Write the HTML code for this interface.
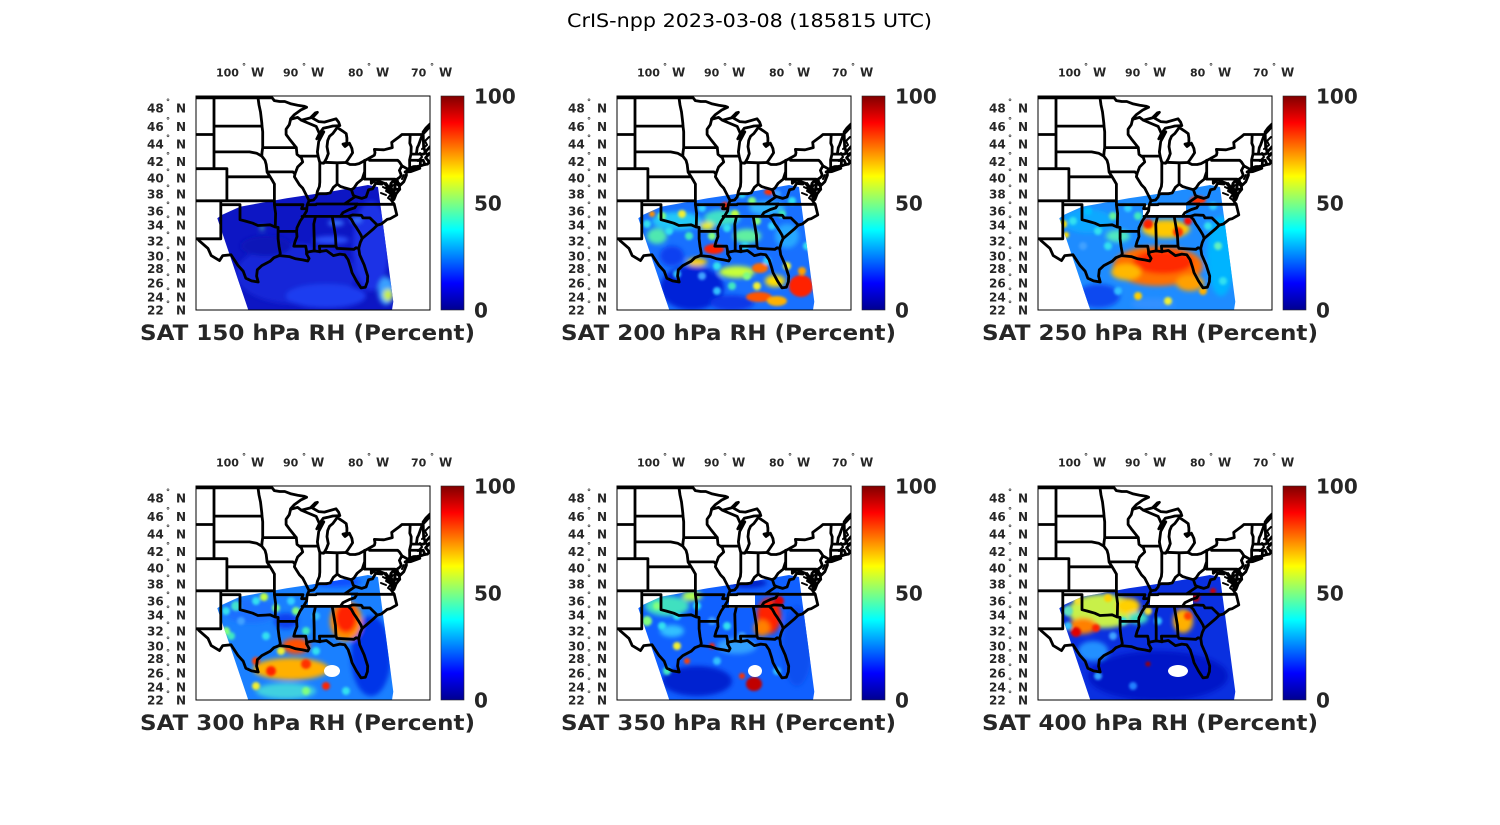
<!DOCTYPE html>
<html><head><meta charset="utf-8"><style>
html,body{margin:0;padding:0;background:#fff;}
svg{display:block;}
text{font-family:"DejaVu Sans","Liberation Sans",sans-serif;}
.l{font-weight:bold;fill:#262626;}
.t{font-weight:bold;fill:#262626;font-size:21px;}
.c{font-weight:bold;fill:#262626;font-size:20px;}
</style></head><body>
<svg xmlns="http://www.w3.org/2000/svg" width="1500" height="825" viewBox="0 0 1500 825">
<defs>
<linearGradient id="jet" x1="0" y1="1" x2="0" y2="0">
<stop offset="0" stop-color="#000090"/><stop offset="0.125" stop-color="#0000ff"/><stop offset="0.375" stop-color="#00ffff"/><stop offset="0.625" stop-color="#ffff00"/><stop offset="0.875" stop-color="#ff0000"/><stop offset="1" stop-color="#800000"/>
</linearGradient>
<clipPath id="sw"><path d="M21.3,122.3 L25.7,119 L44,110.7 L90.7,102.3 L134,95.7 L172,89 L182,91 L197.3,205.7 L196,214 L52.3,214 Z"/></clipPath>
<clipPath id="bx"><rect x="0" y="0" width="234" height="214"/></clipPath>
<filter id="bl" x="-20%" y="-20%" width="140%" height="140%"><feGaussianBlur stdDeviation="2.5"/></filter>
<filter id="bs" x="-20%" y="-20%" width="140%" height="140%"><feGaussianBlur stdDeviation="1.2"/></filter>
<g id="map" fill="none" stroke="#000" stroke-width="2.8" stroke-linejoin="round" stroke-linecap="round">
<path d="M18,0 L18,71.7 M0,37.5 L18,37.5 M0,71.7 L30.9,71.7 L30.9,103.8 M0,103.8 L78.4,103.8 M24.8,103.8 L24.8,141.8 L0,141.8 M24.8,107.7 L44,107.7 L44,122.7 L49.1,124 L56.8,126.2 L61.9,128.5 L69.6,128.1 L74.1,127.8 L79.2,130 L82.1,130.4 M78.4,87.1 L78.4,107.7 L79.6,116.4 L79.3,129.7 M82.1,130.4 L82.1,134.4 L100.6,134.4 M82.1,134.4 L82.1,141.8 L83,149.2 L84.3,156.4 L83.4,158.6 M18,29.1 L66,29.1 M18,54.9 L53.6,54.9 L60.6,56.2 L65.8,59.1 M30.9,79.8 L74.1,79.8 M61.9,0 L63,8 L64.5,14.9 L65.8,25.9 L66,29.1 L66.7,34.8 L66.7,50.6 L100.2,50.6 M66.7,50.6 L66,55.5 L65.8,59.1 L69,63.3 L70.2,67.5 L71.1,75.1 L74.1,79.8 L76.6,83.9 L78.4,87.1 M71.1,74.9 L96.9,74.9 L98.9,76.9 M78.4,107.7 L107,107.7 L105.6,111.7 L109.9,111.7"/>
<path d="M94.6,22.3 L93.3,27.7 L90.1,32.2 L90.1,37.5 L93.3,41.85 L100.3,50.6 L101,57.4 L105.4,60.8 L106.7,65 L101.6,70 L99,76.8 L98.4,79.8 L103.5,87.9 L106.7,91.1 L111.2,99.9 L113.1,103.8 L111.2,107.7 L110.6,114 L107.4,119.4 L104.2,124 L101,130.7 L100.6,134.4 L101,139.6 L99,144.8 L97.8,149.2 L109.7,149.2 L110.4,153 L110.6,156.5 M113.1,103.8 L117.6,103 L120.2,99.9 L120.8,97.5 L123.4,96.7 L130.4,96.7 L134.2,95.9 L137.4,90.3 L141.3,87.1 L144.5,89.5 L148.3,90.7 L155.4,92.7 L157.9,91.1 L161.1,86.3 L166.2,82.2 L168.7,74.6 M123.8,65.3 L123.8,85.1 L123.4,89.5 L121.4,94.3 L120.8,97.5 M141.1,65.8 L141.1,87.1 M128.5,65.3 L141.1,65.8 L149.9,65.5 M104.1,59.1 L122.1,59.1 M168.7,63.3 L168.7,82.1 L199,82.1 L199,92.3 L203.7,92.3 M173.5,61 L173.5,63.3 L201.7,63.3 L203.4,64.9 L205.9,68.8 L211,71.7 M205.9,68.8 L203.4,73.4 L205.3,78.2 L203.4,80.6 L200.8,82.3 L200.8,84.7 M175.3,82.1 L175.3,86.3 L179.7,83 L181.6,83.9 L186.1,85.5 L188.4,86.3 L190.6,88.7 L191.2,91.9 L193.8,94.3 L195.7,95.9 M155.4,92.7 L157.3,98.3 L159.4,99.5 L165.6,101.4 L170.1,99.9 L172.6,92.7 L176.5,91.9 L179.7,86.3 L186.1,87.1 M159.4,99.5 L148.4,107 M111.8,107.7 L120,107.7 L120.5,107 L161.3,107 M161.3,107.3 L198.2,107.3 M161.3,107 L158.6,110.9 L153.4,112.5 L147,115.6 L144.4,119.4 M106.1,119.4 L152.2,119.4 L156.6,117.9 L165.3,118.3 L166.2,119.4 L166.9,120.9 L173.9,120.9 L181.3,128.1 M152.2,119.4 L155.4,122.4 L157.9,127 L160.5,130.7 L162.4,133.7 L165,138.1 L166.2,141.4 M136.2,119.4 L139.4,138.1 L140,149.2 L140.9,151.4 L157.9,152.3 L160,150.8 L162.7,151.4 M123.4,149.2 L140,149.2 M123.4,149.2 L124,154.8 M119.5,119.4 L117.8,127 L118.2,142.5 L118.2,153.9"/>
<path d="M0,0.8 L76.1,0.8 L78.3,3.6 L83.7,4.5 L88.8,4.5 L95.2,6.9 L101.6,8.2 L108,9.2 L110.6,10.2 L104.8,13 L98.4,17.6 L94.6,21.8 L94.6,22.3 L101.6,20.4 L105.4,23.2 L114.4,20.9 L119.5,15.8 L121.4,15.3 L116.2,20.9 L122.6,24.6 L128.4,25.1 L140,21.8 L142.6,25.1 L143.8,28.6 L136.8,29 L131.7,30.3 L127.2,31.3 L123.4,36.6 M105.4,23.2 L112,26 L120.2,29.4 L123.4,36.6 M123.4,36.6 L120.8,41.85 L124,38.4 L127.8,34.8 L122.7,44.5 L121.4,54.9 L122.1,59.1 L123.4,64.1 L124,65.8 L127.8,66.2 L130.4,61.6 L132.3,56.6 L131,49.7 L131.7,43.6 L133.6,39.2 L136.8,36.6 L141.3,30.4 L143.8,32.2 L146.4,33.9 L150.2,36.6 L150.9,41 L150.9,46.2 L147,47.1 L149,49.5 L153.4,46.2 L155.9,51.5 L156.6,55.7 L154.5,59 L152.2,62.4 L149.9,65.5 L154,67.5 L159.2,67.5 L163,66.6 L168.7,63.6 L173.5,61 L178.4,58.2 L179,55.7 L178.4,52.4 L188,52.8 L196.3,50.6 L195.7,45.4 L204,39.2 L205.9,37.5 L226.4,37.5 L229,34.9 L234,29.5 M214.2,37.5 L213.8,46.2 L215.2,49.7 L215,57.1 L227.6,57.1 L228.9,56 M220.3,57.1 L221.3,50.6 L222.6,48 L226.4,37.5 M215,57.1 L213.6,62.9 L213.7,70.9 L212.8,71.7 M213.6,63.1 L224.5,63.3 L227.2,63.3 M224.5,63.3 L224.2,69 M227.2,63.3 L229,67.5 M229.5,56.1 L227.6,49.7 L227.1,34.9 L230,31 L234,27"/>
<path d="M62.2,185 L60.6,179.1 L61.3,172.8 L65.8,168.6 L74.1,164.3 L77.9,160.7 L83.4,158.6 L93.3,159.6 L99.7,161.8 L106.7,162.9 L111.8,164 L113.1,161.5 L110.6,157.1 L111.8,155 L118.2,153.9 L123.4,154.6 L130.4,153.5 L137.4,158.6 L143.8,157.1 L148.8,157.8 L152.2,162.9 L154.7,170.7 L156,175.6 L160.5,184 L165,190.9 L169.4,190.2 L171.4,184.7 L171.7,179.1 L168.2,167.9 L163.7,157.8 L162.7,151.4 L164.3,145.5 L166.2,141.4 L172,136.6 L177.1,132.2 L181.3,128.1 L185.4,127 L191.2,122.4 L194.4,121.6 L200.8,117.9 L198.9,110.1 L198.2,107.3 L195.7,103.8 L195.7,99.1 L196.3,93.5 L194.4,88.7 L195,86.3 L197.6,83.5 L199.5,86.3 L198.2,93.5 L197.9,102.6 L200.2,96.7 L203.7,92.3 L203.4,89.5 L200.8,84.7 L204.6,87.9 L207.8,84.7 L210.4,78.2 L210.4,75.8 L209.1,75 M210.4,75 L214.9,74.6 L223.8,71.3 L219.4,71.7 L212.3,72.6 L210.4,74.2 M212.8,71.7 L217.4,69.7 L221.3,69.4 L224.2,69 L227,68 L229,67.5 L231.5,67.1 L232.8,65.5 L232.2,63.7 L229.6,60.8 L232.2,57.8 L228.9,55.7 L230.2,54 L234,49.7 M1.8,141.8 L3,143.6 L12,151.4 L15.2,158.6 L23.5,163.6 L26.7,158.6 L35,157.8 L42.1,168.6 L47.2,174.2 L49.8,181.2 L55.5,183.9 L62.2,185"/>
<path stroke-width="2" d="M190,86 L193,90 L190,94 L195,97 L192,101 L196,104 M197,88 L194,92 L198,95 L195,99 M202,84 L199,87 L204,89 M187,90 L191,92 M185,96 L190,98 M208,78 L206,82 M226,52 L231,48 L229,44 L233,40 M222,64 L226,60 L224,56 M230,60 L233,56"/>
</g>
</defs>

<rect x="0" y="0" width="1500" height="825" fill="#fff"/>
<text x="567" y="27" font-size="19" fill="#000" textLength="365" lengthAdjust="spacingAndGlyphs">CrIS-npp 2023-03-08 (185815 UTC)</text>

<!-- PANEL 1 -->
<g transform="translate(196,96)">
<g clip-path="url(#sw)">
<rect x="0" y="0" width="234" height="214" fill="#0d16c4"/>
<g filter="url(#bl)">
<ellipse cx="100" cy="178" rx="60" ry="30" fill="#1428d8"/>
<ellipse cx="70" cy="150" rx="25" ry="10" fill="#0a12b8"/>
<ellipse cx="175" cy="150" rx="18" ry="45" fill="#1a32e6"/>
<ellipse cx="140" cy="127" rx="8" ry="3" fill="#3a78ff"/>
<ellipse cx="160" cy="124" rx="6" ry="3" fill="#3a78ff"/>
<ellipse cx="130" cy="200" rx="40" ry="12" fill="#1c3cf0"/>
<ellipse cx="135" cy="144" rx="18" ry="4" fill="#2a50f8"/>
<ellipse cx="190" cy="195" rx="8" ry="14" fill="#3aa0ff"/>
<ellipse cx="192" cy="199" rx="5" ry="6" fill="#c8f040"/>
<circle cx="66" cy="132" r="2" fill="#50e0b0"/>
</g>
</g>
<g clip-path="url(#bx)"><use href="#map" transform="translate(0,1)"/></g>
<rect x="0" y="0" width="234" height="214" fill="none" stroke="#000" stroke-width="1"/>
</g>

<!-- PANEL 2 -->
<g transform="translate(617,96)">
<g clip-path="url(#sw)">
<rect x="0" y="0" width="234" height="214" fill="#1870ff"/>
<g filter="url(#bl)">
<ellipse cx="75" cy="192" rx="32" ry="22" fill="#0024d8"/>
<ellipse cx="115" cy="207" rx="22" ry="8" fill="#0838e8"/>
<ellipse cx="55" cy="160" rx="12" ry="10" fill="#0a40f0"/>
<ellipse cx="60" cy="125" rx="25" ry="9" fill="#20c8f8"/>
<ellipse cx="105" cy="122" rx="18" ry="8" fill="#40e0c8"/>
<ellipse cx="150" cy="112" rx="18" ry="7" fill="#30b8ff"/>
<ellipse cx="130" cy="140" rx="14" ry="7" fill="#60f0a0"/>
<ellipse cx="40" cy="140" rx="10" ry="8" fill="#50e8b0"/>
<ellipse cx="170" cy="140" rx="12" ry="12" fill="#28a8ff"/>
<ellipse cx="90" cy="130" rx="7" ry="4" fill="#f0f020"/>
<ellipse cx="120" cy="176" rx="18" ry="6" fill="#c8ff38"/>
<ellipse cx="158" cy="185" rx="10" ry="6" fill="#ffe000"/>
<ellipse cx="80" cy="166" rx="10" ry="4" fill="#ffd000"/>
</g>
<g filter="url(#bs)">
<circle cx="30" cy="128" r="4" fill="#30e0f0"/><circle cx="45" cy="120" r="4" fill="#80ff80"/><circle cx="52" cy="135" r="4" fill="#30e0f0"/><circle cx="65" cy="118" r="4" fill="#f0f030"/><circle cx="72" cy="140" r="4" fill="#40e8c0"/><circle cx="85" cy="112" r="4" fill="#30d0ff"/><circle cx="95" cy="140" r="4" fill="#80ff80"/><circle cx="110" cy="132" r="4" fill="#30e0f0"/><circle cx="118" cy="118" r="4" fill="#c0ff40"/><circle cx="128" cy="150" r="4" fill="#30e0f0"/><circle cx="140" cy="125" r="4" fill="#80ff80"/><circle cx="155" cy="130" r="4" fill="#30d0ff"/><circle cx="165" cy="118" r="4" fill="#40e8c0"/><circle cx="175" cy="105" r="4" fill="#30e0f0"/><circle cx="135" cy="105" r="4" fill="#80ff80"/><circle cx="100" cy="170" r="4" fill="#30e0f0"/><circle cx="115" cy="190" r="4" fill="#40e8c0"/><circle cx="130" cy="180" r="4" fill="#80ff80"/><circle cx="150" cy="165" r="4" fill="#30d0ff"/><circle cx="170" cy="170" r="4" fill="#f0f030"/><circle cx="165" cy="205" r="4" fill="#30e0f0"/><circle cx="185" cy="175" r="4" fill="#ffa000"/><circle cx="100" cy="195" r="4" fill="#30c0ff"/><circle cx="85" cy="180" r="4" fill="#40a0ff"/><circle cx="60" cy="178" r="4" fill="#30c0ff"/><circle cx="140" cy="190" r="4" fill="#f0f030"/><circle cx="190" cy="150" r="4" fill="#30e0f0"/><circle cx="125" cy="98" r="4" fill="#30e0f0"/><circle cx="160" cy="98" r="4" fill="#40a0ff"/>
<ellipse cx="97" cy="153" rx="10" ry="5" fill="#ff2400"/>
<ellipse cx="184" cy="190" rx="12" ry="11" fill="#ff2400"/>
<ellipse cx="142" cy="201" rx="13" ry="5" fill="#ff5400"/>
<ellipse cx="143" cy="172" rx="8" ry="5" fill="#ff6a00"/>
<circle cx="108" cy="110" r="4" fill="#ff2400"/>
<ellipse cx="152" cy="96" rx="5" ry="3" fill="#ff3000"/>
<circle cx="35" cy="118" r="3" fill="#ff9000"/>
<ellipse cx="160" cy="205" rx="10" ry="5" fill="#ffb000"/>
</g>
</g>
<g clip-path="url(#bx)"><use href="#map" transform="translate(0,1)"/></g>
<rect x="0" y="0" width="234" height="214" fill="none" stroke="#000" stroke-width="1"/>
</g>

<!-- PANEL 3 -->
<g transform="translate(1038,96)">
<g clip-path="url(#sw)">
<rect x="0" y="0" width="234" height="214" fill="#1e8cff"/>
<g filter="url(#bl)">
<ellipse cx="50" cy="125" rx="25" ry="12" fill="#10a8ff"/>
<ellipse cx="60" cy="200" rx="22" ry="12" fill="#0848f0"/>
<ellipse cx="115" cy="208" rx="22" ry="6" fill="#3090ff"/>
<ellipse cx="183" cy="160" rx="14" ry="40" fill="#00b4ff"/>
<ellipse cx="120" cy="170" rx="45" ry="20" fill="#ff7000"/>
<ellipse cx="125" cy="166" rx="30" ry="12" fill="#ff2a00"/>
<ellipse cx="88" cy="176" rx="15" ry="8" fill="#ffb800"/>
<ellipse cx="152" cy="187" rx="14" ry="8" fill="#ffa000"/>
<ellipse cx="128" cy="133" rx="24" ry="9" fill="#ffc800"/>
<ellipse cx="80" cy="140" rx="12" ry="6" fill="#50e8c0"/>
</g>
<g filter="url(#bs)">
<circle cx="35" cy="125" r="4" fill="#30e0f0"/><circle cx="50" cy="115" r="4" fill="#00c0ff"/><circle cx="60" cy="135" r="4" fill="#30e0f0"/><circle cx="75" cy="120" r="4" fill="#60f0a0"/><circle cx="90" cy="112" r="4" fill="#30d0ff"/><circle cx="70" cy="150" r="4" fill="#30e0f0"/><circle cx="45" cy="150" r="4" fill="#40a0ff"/><circle cx="25" cy="128" r="4" fill="#ffe000"/><circle cx="100" cy="120" r="4" fill="#40e8c0"/><circle cx="170" cy="130" r="4" fill="#30e0f0"/><circle cx="180" cy="150" r="4" fill="#60f0c0"/><circle cx="185" cy="185" r="4" fill="#30e0f0"/><circle cx="175" cy="110" r="4" fill="#30d0ff"/><circle cx="80" cy="195" r="4" fill="#30c0ff"/><circle cx="100" cy="200" r="4" fill="#ffd000"/><circle cx="130" cy="205" r="4" fill="#f0f030"/><circle cx="165" cy="195" r="4" fill="#ffb000"/>
<circle cx="110" cy="128" r="5" fill="#ff2000"/>
<circle cx="140" cy="136" r="5" fill="#ff3000"/>
<circle cx="150" cy="125" r="4" fill="#ff1000"/>
<ellipse cx="160" cy="104" rx="8" ry="4" fill="#ff3000"/>
<circle cx="28" cy="139" r="3" fill="#ffe000"/>
</g>
<path d="M105,109 L148,107 L148,119 L105,119 Z" fill="#fff"/>
</g>
<g clip-path="url(#bx)"><use href="#map" transform="translate(0,1)"/></g>
<rect x="0" y="0" width="234" height="214" fill="none" stroke="#000" stroke-width="1"/>
</g>

<!-- PANEL 4 -->
<g transform="translate(196,486)">
<g clip-path="url(#sw)">
<rect x="0" y="0" width="234" height="214" fill="#1a80ff"/>
<g filter="url(#bl)">
<ellipse cx="55" cy="125" rx="28" ry="12" fill="#1c70ff"/>
<ellipse cx="90" cy="135" rx="12" ry="8" fill="#0a40f0"/>
<ellipse cx="175" cy="170" rx="20" ry="40" fill="#0434e8"/>
<ellipse cx="140" cy="96" rx="25" ry="5" fill="#0850ff"/>
<ellipse cx="150" cy="135" rx="16" ry="20" fill="#ff9000"/>
<ellipse cx="150" cy="132" rx="11" ry="15" fill="#ff2000"/>
<ellipse cx="100" cy="160" rx="14" ry="8" fill="#ff5000"/>
<ellipse cx="95" cy="183" rx="38" ry="11" fill="#ffb000"/>
<ellipse cx="90" cy="205" rx="30" ry="8" fill="#40d0e0"/>
</g>
<g filter="url(#bs)">
<circle cx="30" cy="125" r="4" fill="#30e0f0"/><circle cx="45" cy="135" r="4" fill="#40a0ff"/><circle cx="60" cy="115" r="4" fill="#30e0f0"/><circle cx="80" cy="122" r="4" fill="#80ff80"/><circle cx="95" cy="115" r="4" fill="#30d0ff"/><circle cx="35" cy="150" r="4" fill="#40e8c0"/><circle cx="70" cy="150" r="4" fill="#30e0f0"/><circle cx="110" cy="145" r="4" fill="#40e8c0"/><circle cx="120" cy="130" r="4" fill="#30c0ff"/><circle cx="100" cy="125" r="4" fill="#80ff80"/><circle cx="60" cy="200" r="4" fill="#f0f030"/><circle cx="110" cy="205" r="4" fill="#80ff80"/><circle cx="150" cy="205" r="4" fill="#30e0f0"/><circle cx="120" cy="165" r="4" fill="#30e0f0"/><circle cx="85" cy="165" r="4" fill="#f0f030"/>
<circle cx="40" cy="120" r="5" fill="#40e0d0"/>
<circle cx="68" cy="111" r="4" fill="#c0ff40"/>
<circle cx="30" cy="145" r="4" fill="#80ff80"/>
<circle cx="75" cy="185" r="5" fill="#ff2000"/>
<circle cx="110" cy="178" r="5" fill="#ff3000"/>
<circle cx="130" cy="200" r="4" fill="#ff2000"/>
<circle cx="60" cy="175" r="4" fill="#ff4000"/>
</g>
<ellipse cx="136" cy="185" rx="8" ry="6" fill="#fff"/>
<rect x="112" y="107" width="43" height="14" fill="#fff"/>
</g>
<g clip-path="url(#bx)"><use href="#map" transform="translate(0,1)"/></g>
<rect x="0" y="0" width="234" height="214" fill="none" stroke="#000" stroke-width="1"/>
</g>

<!-- PANEL 5 -->
<g transform="translate(617,486)">
<g clip-path="url(#sw)">
<rect x="0" y="0" width="234" height="214" fill="#1060ff"/>
<g filter="url(#bl)">
<ellipse cx="50" cy="120" rx="22" ry="10" fill="#40e0c0"/>
<ellipse cx="75" cy="110" rx="10" ry="5" fill="#b0ff50"/>
<ellipse cx="55" cy="145" rx="12" ry="6" fill="#30c0ff"/>
<ellipse cx="80" cy="195" rx="35" ry="15" fill="#0020d0"/>
<ellipse cx="130" cy="97" rx="20" ry="5" fill="#0020c8"/>
<ellipse cx="180" cy="160" rx="15" ry="40" fill="#0a50f0"/>
<ellipse cx="120" cy="160" rx="20" ry="8" fill="#30a0ff"/>
<ellipse cx="152" cy="130" rx="12" ry="18" fill="#ff2000"/>
<ellipse cx="145" cy="142" rx="8" ry="8" fill="#ff8000"/>
</g>
<g filter="url(#bs)">
<circle cx="40" cy="120" r="4" fill="#80ff80"/><circle cx="60" cy="130" r="4" fill="#30e0f0"/><circle cx="80" cy="120" r="4" fill="#30e0f0"/><circle cx="95" cy="135" r="4" fill="#40a0ff"/><circle cx="45" cy="140" r="4" fill="#30e0f0"/><circle cx="110" cy="140" r="4" fill="#30e0f0"/><circle cx="125" cy="150" r="4" fill="#40a0ff"/><circle cx="100" cy="175" r="4" fill="#30c0ff"/><circle cx="60" cy="160" r="4" fill="#f0f030"/><circle cx="50" cy="185" r="4" fill="#40e8c0"/><circle cx="160" cy="185" r="4" fill="#30c0ff"/>
<circle cx="30" cy="135" r="5" fill="#80ff80"/>
<circle cx="162" cy="115" r="5" fill="#e00000"/>
<ellipse cx="137" cy="198" rx="8" ry="7" fill="#c00000"/>
<circle cx="125" cy="190" r="3" fill="#ff3000"/>
<circle cx="95" cy="160" r="3" fill="#ff2000"/>
<circle cx="70" cy="175" r="3" fill="#ff4000"/>
</g>
<ellipse cx="138" cy="185" rx="7" ry="6" fill="#fff"/>
<rect x="112" y="109" width="26" height="13" fill="#fff"/>
</g>
<g clip-path="url(#bx)"><use href="#map" transform="translate(0,1)"/></g>
<rect x="0" y="0" width="234" height="214" fill="none" stroke="#000" stroke-width="1"/>
</g>

<!-- PANEL 6 -->
<g transform="translate(1038,486)">
<g clip-path="url(#sw)">
<rect x="0" y="0" width="234" height="214" fill="#0a30e0"/>
<g filter="url(#bl)">
<ellipse cx="120" cy="190" rx="70" ry="25" fill="#0418c8"/>
<ellipse cx="65" cy="125" rx="35" ry="17" fill="#c8f048"/>
<ellipse cx="45" cy="140" rx="14" ry="8" fill="#ff8000"/>
<ellipse cx="90" cy="120" rx="12" ry="8" fill="#ffd000"/>
<ellipse cx="55" cy="165" rx="15" ry="10" fill="#2090ff"/>
<ellipse cx="100" cy="132" rx="10" ry="6" fill="#40e0c0"/>
<ellipse cx="145" cy="135" rx="10" ry="12" fill="#ffb000"/>
</g>
<g filter="url(#bs)">
<circle cx="40" cy="115" r="4" fill="#f0e030"/><circle cx="70" cy="112" r="4" fill="#ffd000"/><circle cx="85" cy="135" r="4" fill="#30e0f0"/><circle cx="110" cy="125" r="4" fill="#f0e030"/><circle cx="120" cy="135" r="4" fill="#30c0ff"/><circle cx="30" cy="140" r="4" fill="#30c0ff"/><circle cx="75" cy="150" r="4" fill="#40a0ff"/><circle cx="60" cy="190" r="4" fill="#30a0ff"/><circle cx="95" cy="200" r="4" fill="#2080ff"/>
<circle cx="38" cy="146" r="5" fill="#e00000"/>
<circle cx="58" cy="142" r="4" fill="#ff2000"/>
<circle cx="30" cy="125" r="5" fill="#60e0c0"/>
<circle cx="150" cy="130" r="4" fill="#ff4000"/>
<circle cx="158" cy="112" r="4" fill="#c00000"/>
<circle cx="175" cy="105" r="3" fill="#d00000"/>
<circle cx="110" cy="178" r="2.5" fill="#a00000"/>
</g>
<ellipse cx="140" cy="185" rx="10" ry="6" fill="#fff"/>
<rect x="112" y="109" width="43" height="12" fill="#fff"/>
</g>
<g clip-path="url(#bx)"><use href="#map" transform="translate(0,1)"/></g>
<rect x="0" y="0" width="234" height="214" fill="none" stroke="#000" stroke-width="1"/>
</g>

<!-- colorbars -->
<rect x="441" y="96" width="23" height="214" fill="url(#jet)" stroke="#262626" stroke-width="0.6"/>
<rect x="862" y="96" width="23" height="214" fill="url(#jet)" stroke="#262626" stroke-width="0.6"/>
<rect x="1283" y="96" width="23" height="214" fill="url(#jet)" stroke="#262626" stroke-width="0.6"/>
<rect x="441" y="486" width="23" height="214" fill="url(#jet)" stroke="#262626" stroke-width="0.6"/>
<rect x="862" y="486" width="23" height="214" fill="url(#jet)" stroke="#262626" stroke-width="0.6"/>
<rect x="1283" y="486" width="23" height="214" fill="url(#jet)" stroke="#262626" stroke-width="0.6"/>

<!-- colorbar labels -->
<text class="c" x="474" y="103.5">100</text><text class="c" x="474" y="210.5">50</text><text class="c" x="474" y="317.5">0</text>
<text class="c" x="895" y="103.5">100</text><text class="c" x="895" y="210.5">50</text><text class="c" x="895" y="317.5">0</text>
<text class="c" x="1316" y="103.5">100</text><text class="c" x="1316" y="210.5">50</text><text class="c" x="1316" y="317.5">0</text>
<text class="c" x="474" y="493.5">100</text><text class="c" x="474" y="600.5">50</text><text class="c" x="474" y="707.5">0</text>
<text class="c" x="895" y="493.5">100</text><text class="c" x="895" y="600.5">50</text><text class="c" x="895" y="707.5">0</text>
<text class="c" x="1316" y="493.5">100</text><text class="c" x="1316" y="600.5">50</text><text class="c" x="1316" y="707.5">0</text>

<!-- panel titles -->
<text class="t" x="140" y="340" textLength="335" lengthAdjust="spacingAndGlyphs">SAT 150 hPa RH (Percent)</text>
<text class="t" x="561" y="340" textLength="335" lengthAdjust="spacingAndGlyphs">SAT 200 hPa RH (Percent)</text>
<text class="t" x="982" y="340" textLength="336" lengthAdjust="spacingAndGlyphs">SAT 250 hPa RH (Percent)</text>
<text class="t" x="140" y="730" textLength="335" lengthAdjust="spacingAndGlyphs">SAT 300 hPa RH (Percent)</text>
<text class="t" x="561" y="730" textLength="335" lengthAdjust="spacingAndGlyphs">SAT 350 hPa RH (Percent)</text>
<text class="t" x="982" y="730" textLength="336" lengthAdjust="spacingAndGlyphs">SAT 400 hPa RH (Percent)</text>

<!-- tick labels panel 1 -->
<g class="l" font-size="11">
<text x="216" y="76.5">100<tspan x="242" dy="-7.7" font-size="8">°</tspan><tspan x="251" dy="7.7" font-size="12">W</tspan></text>
<text x="283" y="76.5">90<tspan x="302" dy="-7.7" font-size="8">°</tspan><tspan x="311" dy="7.7" font-size="12">W</tspan></text>
<text x="348" y="76.5">80<tspan x="367" dy="-7.7" font-size="8">°</tspan><tspan x="376" dy="7.7" font-size="12">W</tspan></text>
<text x="411" y="76.5">70<tspan x="430" dy="-7.7" font-size="8">°</tspan><tspan x="439" dy="7.7" font-size="12">W</tspan></text>
</g>
<g class="l" font-size="12">
<text x="147" y="112.7">48<tspan x="166" dy="-8" font-size="8">°</tspan><tspan x="176" dy="8">N</tspan></text>
<text x="147" y="131.1">46<tspan x="166" dy="-8" font-size="8">°</tspan><tspan x="176" dy="8">N</tspan></text>
<text x="147" y="148.7">44<tspan x="166" dy="-8" font-size="8">°</tspan><tspan x="176" dy="8">N</tspan></text>
<text x="147" y="165.8">42<tspan x="166" dy="-8" font-size="8">°</tspan><tspan x="176" dy="8">N</tspan></text>
<text x="147" y="182.3">40<tspan x="166" dy="-8" font-size="8">°</tspan><tspan x="176" dy="8">N</tspan></text>
<text x="147" y="198.4">38<tspan x="166" dy="-8" font-size="8">°</tspan><tspan x="176" dy="8">N</tspan></text>
<text x="147" y="215.5">36<tspan x="166" dy="-8" font-size="8">°</tspan><tspan x="176" dy="8">N</tspan></text>
<text x="147" y="229.3">34<tspan x="166" dy="-8" font-size="8">°</tspan><tspan x="176" dy="8">N</tspan></text>
<text x="147" y="245.5">32<tspan x="166" dy="-8" font-size="8">°</tspan><tspan x="176" dy="8">N</tspan></text>
<text x="147" y="260.5">30<tspan x="166" dy="-8" font-size="8">°</tspan><tspan x="176" dy="8">N</tspan></text>
<text x="147" y="272.8">28<tspan x="166" dy="-8" font-size="8">°</tspan><tspan x="176" dy="8">N</tspan></text>
<text x="147" y="287.6">26<tspan x="166" dy="-8" font-size="8">°</tspan><tspan x="176" dy="8">N</tspan></text>
<text x="147" y="301.3">24<tspan x="166" dy="-8" font-size="8">°</tspan><tspan x="176" dy="8">N</tspan></text>
<text x="147" y="314.3">22<tspan x="166" dy="-8" font-size="8">°</tspan><tspan x="176" dy="8">N</tspan></text>
</g>

<!-- tick labels panel 2 -->
<g transform="translate(421,0)">
<g class="l" font-size="11">
<text x="216" y="76.5">100<tspan x="242" dy="-7.7" font-size="8">°</tspan><tspan x="251" dy="7.7" font-size="12">W</tspan></text>
<text x="283" y="76.5">90<tspan x="302" dy="-7.7" font-size="8">°</tspan><tspan x="311" dy="7.7" font-size="12">W</tspan></text>
<text x="348" y="76.5">80<tspan x="367" dy="-7.7" font-size="8">°</tspan><tspan x="376" dy="7.7" font-size="12">W</tspan></text>
<text x="411" y="76.5">70<tspan x="430" dy="-7.7" font-size="8">°</tspan><tspan x="439" dy="7.7" font-size="12">W</tspan></text>
</g>
<g class="l" font-size="12">
<text x="147" y="112.7">48<tspan x="166" dy="-8" font-size="8">°</tspan><tspan x="176" dy="8">N</tspan></text>
<text x="147" y="131.1">46<tspan x="166" dy="-8" font-size="8">°</tspan><tspan x="176" dy="8">N</tspan></text>
<text x="147" y="148.7">44<tspan x="166" dy="-8" font-size="8">°</tspan><tspan x="176" dy="8">N</tspan></text>
<text x="147" y="165.8">42<tspan x="166" dy="-8" font-size="8">°</tspan><tspan x="176" dy="8">N</tspan></text>
<text x="147" y="182.3">40<tspan x="166" dy="-8" font-size="8">°</tspan><tspan x="176" dy="8">N</tspan></text>
<text x="147" y="198.4">38<tspan x="166" dy="-8" font-size="8">°</tspan><tspan x="176" dy="8">N</tspan></text>
<text x="147" y="215.5">36<tspan x="166" dy="-8" font-size="8">°</tspan><tspan x="176" dy="8">N</tspan></text>
<text x="147" y="229.3">34<tspan x="166" dy="-8" font-size="8">°</tspan><tspan x="176" dy="8">N</tspan></text>
<text x="147" y="245.5">32<tspan x="166" dy="-8" font-size="8">°</tspan><tspan x="176" dy="8">N</tspan></text>
<text x="147" y="260.5">30<tspan x="166" dy="-8" font-size="8">°</tspan><tspan x="176" dy="8">N</tspan></text>
<text x="147" y="272.8">28<tspan x="166" dy="-8" font-size="8">°</tspan><tspan x="176" dy="8">N</tspan></text>
<text x="147" y="287.6">26<tspan x="166" dy="-8" font-size="8">°</tspan><tspan x="176" dy="8">N</tspan></text>
<text x="147" y="301.3">24<tspan x="166" dy="-8" font-size="8">°</tspan><tspan x="176" dy="8">N</tspan></text>
<text x="147" y="314.3">22<tspan x="166" dy="-8" font-size="8">°</tspan><tspan x="176" dy="8">N</tspan></text>
</g>
</g>

<!-- tick labels panel 3 -->
<g transform="translate(842,0)">
<g class="l" font-size="11">
<text x="216" y="76.5">100<tspan x="242" dy="-7.7" font-size="8">°</tspan><tspan x="251" dy="7.7" font-size="12">W</tspan></text>
<text x="283" y="76.5">90<tspan x="302" dy="-7.7" font-size="8">°</tspan><tspan x="311" dy="7.7" font-size="12">W</tspan></text>
<text x="348" y="76.5">80<tspan x="367" dy="-7.7" font-size="8">°</tspan><tspan x="376" dy="7.7" font-size="12">W</tspan></text>
<text x="411" y="76.5">70<tspan x="430" dy="-7.7" font-size="8">°</tspan><tspan x="439" dy="7.7" font-size="12">W</tspan></text>
</g>
<g class="l" font-size="12">
<text x="147" y="112.7">48<tspan x="166" dy="-8" font-size="8">°</tspan><tspan x="176" dy="8">N</tspan></text>
<text x="147" y="131.1">46<tspan x="166" dy="-8" font-size="8">°</tspan><tspan x="176" dy="8">N</tspan></text>
<text x="147" y="148.7">44<tspan x="166" dy="-8" font-size="8">°</tspan><tspan x="176" dy="8">N</tspan></text>
<text x="147" y="165.8">42<tspan x="166" dy="-8" font-size="8">°</tspan><tspan x="176" dy="8">N</tspan></text>
<text x="147" y="182.3">40<tspan x="166" dy="-8" font-size="8">°</tspan><tspan x="176" dy="8">N</tspan></text>
<text x="147" y="198.4">38<tspan x="166" dy="-8" font-size="8">°</tspan><tspan x="176" dy="8">N</tspan></text>
<text x="147" y="215.5">36<tspan x="166" dy="-8" font-size="8">°</tspan><tspan x="176" dy="8">N</tspan></text>
<text x="147" y="229.3">34<tspan x="166" dy="-8" font-size="8">°</tspan><tspan x="176" dy="8">N</tspan></text>
<text x="147" y="245.5">32<tspan x="166" dy="-8" font-size="8">°</tspan><tspan x="176" dy="8">N</tspan></text>
<text x="147" y="260.5">30<tspan x="166" dy="-8" font-size="8">°</tspan><tspan x="176" dy="8">N</tspan></text>
<text x="147" y="272.8">28<tspan x="166" dy="-8" font-size="8">°</tspan><tspan x="176" dy="8">N</tspan></text>
<text x="147" y="287.6">26<tspan x="166" dy="-8" font-size="8">°</tspan><tspan x="176" dy="8">N</tspan></text>
<text x="147" y="301.3">24<tspan x="166" dy="-8" font-size="8">°</tspan><tspan x="176" dy="8">N</tspan></text>
<text x="147" y="314.3">22<tspan x="166" dy="-8" font-size="8">°</tspan><tspan x="176" dy="8">N</tspan></text>
</g>
</g>

<!-- tick labels panel 4 -->
<g transform="translate(0,390)">
<g class="l" font-size="11">
<text x="216" y="76.5">100<tspan x="242" dy="-7.7" font-size="8">°</tspan><tspan x="251" dy="7.7" font-size="12">W</tspan></text>
<text x="283" y="76.5">90<tspan x="302" dy="-7.7" font-size="8">°</tspan><tspan x="311" dy="7.7" font-size="12">W</tspan></text>
<text x="348" y="76.5">80<tspan x="367" dy="-7.7" font-size="8">°</tspan><tspan x="376" dy="7.7" font-size="12">W</tspan></text>
<text x="411" y="76.5">70<tspan x="430" dy="-7.7" font-size="8">°</tspan><tspan x="439" dy="7.7" font-size="12">W</tspan></text>
</g>
<g class="l" font-size="12">
<text x="147" y="112.7">48<tspan x="166" dy="-8" font-size="8">°</tspan><tspan x="176" dy="8">N</tspan></text>
<text x="147" y="131.1">46<tspan x="166" dy="-8" font-size="8">°</tspan><tspan x="176" dy="8">N</tspan></text>
<text x="147" y="148.7">44<tspan x="166" dy="-8" font-size="8">°</tspan><tspan x="176" dy="8">N</tspan></text>
<text x="147" y="165.8">42<tspan x="166" dy="-8" font-size="8">°</tspan><tspan x="176" dy="8">N</tspan></text>
<text x="147" y="182.3">40<tspan x="166" dy="-8" font-size="8">°</tspan><tspan x="176" dy="8">N</tspan></text>
<text x="147" y="198.4">38<tspan x="166" dy="-8" font-size="8">°</tspan><tspan x="176" dy="8">N</tspan></text>
<text x="147" y="215.5">36<tspan x="166" dy="-8" font-size="8">°</tspan><tspan x="176" dy="8">N</tspan></text>
<text x="147" y="229.3">34<tspan x="166" dy="-8" font-size="8">°</tspan><tspan x="176" dy="8">N</tspan></text>
<text x="147" y="245.5">32<tspan x="166" dy="-8" font-size="8">°</tspan><tspan x="176" dy="8">N</tspan></text>
<text x="147" y="260.5">30<tspan x="166" dy="-8" font-size="8">°</tspan><tspan x="176" dy="8">N</tspan></text>
<text x="147" y="272.8">28<tspan x="166" dy="-8" font-size="8">°</tspan><tspan x="176" dy="8">N</tspan></text>
<text x="147" y="287.6">26<tspan x="166" dy="-8" font-size="8">°</tspan><tspan x="176" dy="8">N</tspan></text>
<text x="147" y="301.3">24<tspan x="166" dy="-8" font-size="8">°</tspan><tspan x="176" dy="8">N</tspan></text>
<text x="147" y="314.3">22<tspan x="166" dy="-8" font-size="8">°</tspan><tspan x="176" dy="8">N</tspan></text>
</g>
</g>

<!-- tick labels panel 5 -->
<g transform="translate(421,390)">
<g class="l" font-size="11">
<text x="216" y="76.5">100<tspan x="242" dy="-7.7" font-size="8">°</tspan><tspan x="251" dy="7.7" font-size="12">W</tspan></text>
<text x="283" y="76.5">90<tspan x="302" dy="-7.7" font-size="8">°</tspan><tspan x="311" dy="7.7" font-size="12">W</tspan></text>
<text x="348" y="76.5">80<tspan x="367" dy="-7.7" font-size="8">°</tspan><tspan x="376" dy="7.7" font-size="12">W</tspan></text>
<text x="411" y="76.5">70<tspan x="430" dy="-7.7" font-size="8">°</tspan><tspan x="439" dy="7.7" font-size="12">W</tspan></text>
</g>
<g class="l" font-size="12">
<text x="147" y="112.7">48<tspan x="166" dy="-8" font-size="8">°</tspan><tspan x="176" dy="8">N</tspan></text>
<text x="147" y="131.1">46<tspan x="166" dy="-8" font-size="8">°</tspan><tspan x="176" dy="8">N</tspan></text>
<text x="147" y="148.7">44<tspan x="166" dy="-8" font-size="8">°</tspan><tspan x="176" dy="8">N</tspan></text>
<text x="147" y="165.8">42<tspan x="166" dy="-8" font-size="8">°</tspan><tspan x="176" dy="8">N</tspan></text>
<text x="147" y="182.3">40<tspan x="166" dy="-8" font-size="8">°</tspan><tspan x="176" dy="8">N</tspan></text>
<text x="147" y="198.4">38<tspan x="166" dy="-8" font-size="8">°</tspan><tspan x="176" dy="8">N</tspan></text>
<text x="147" y="215.5">36<tspan x="166" dy="-8" font-size="8">°</tspan><tspan x="176" dy="8">N</tspan></text>
<text x="147" y="229.3">34<tspan x="166" dy="-8" font-size="8">°</tspan><tspan x="176" dy="8">N</tspan></text>
<text x="147" y="245.5">32<tspan x="166" dy="-8" font-size="8">°</tspan><tspan x="176" dy="8">N</tspan></text>
<text x="147" y="260.5">30<tspan x="166" dy="-8" font-size="8">°</tspan><tspan x="176" dy="8">N</tspan></text>
<text x="147" y="272.8">28<tspan x="166" dy="-8" font-size="8">°</tspan><tspan x="176" dy="8">N</tspan></text>
<text x="147" y="287.6">26<tspan x="166" dy="-8" font-size="8">°</tspan><tspan x="176" dy="8">N</tspan></text>
<text x="147" y="301.3">24<tspan x="166" dy="-8" font-size="8">°</tspan><tspan x="176" dy="8">N</tspan></text>
<text x="147" y="314.3">22<tspan x="166" dy="-8" font-size="8">°</tspan><tspan x="176" dy="8">N</tspan></text>
</g>
</g>

<!-- tick labels panel 6 -->
<g transform="translate(842,390)">
<g class="l" font-size="11">
<text x="216" y="76.5">100<tspan x="242" dy="-7.7" font-size="8">°</tspan><tspan x="251" dy="7.7" font-size="12">W</tspan></text>
<text x="283" y="76.5">90<tspan x="302" dy="-7.7" font-size="8">°</tspan><tspan x="311" dy="7.7" font-size="12">W</tspan></text>
<text x="348" y="76.5">80<tspan x="367" dy="-7.7" font-size="8">°</tspan><tspan x="376" dy="7.7" font-size="12">W</tspan></text>
<text x="411" y="76.5">70<tspan x="430" dy="-7.7" font-size="8">°</tspan><tspan x="439" dy="7.7" font-size="12">W</tspan></text>
</g>
<g class="l" font-size="12">
<text x="147" y="112.7">48<tspan x="166" dy="-8" font-size="8">°</tspan><tspan x="176" dy="8">N</tspan></text>
<text x="147" y="131.1">46<tspan x="166" dy="-8" font-size="8">°</tspan><tspan x="176" dy="8">N</tspan></text>
<text x="147" y="148.7">44<tspan x="166" dy="-8" font-size="8">°</tspan><tspan x="176" dy="8">N</tspan></text>
<text x="147" y="165.8">42<tspan x="166" dy="-8" font-size="8">°</tspan><tspan x="176" dy="8">N</tspan></text>
<text x="147" y="182.3">40<tspan x="166" dy="-8" font-size="8">°</tspan><tspan x="176" dy="8">N</tspan></text>
<text x="147" y="198.4">38<tspan x="166" dy="-8" font-size="8">°</tspan><tspan x="176" dy="8">N</tspan></text>
<text x="147" y="215.5">36<tspan x="166" dy="-8" font-size="8">°</tspan><tspan x="176" dy="8">N</tspan></text>
<text x="147" y="229.3">34<tspan x="166" dy="-8" font-size="8">°</tspan><tspan x="176" dy="8">N</tspan></text>
<text x="147" y="245.5">32<tspan x="166" dy="-8" font-size="8">°</tspan><tspan x="176" dy="8">N</tspan></text>
<text x="147" y="260.5">30<tspan x="166" dy="-8" font-size="8">°</tspan><tspan x="176" dy="8">N</tspan></text>
<text x="147" y="272.8">28<tspan x="166" dy="-8" font-size="8">°</tspan><tspan x="176" dy="8">N</tspan></text>
<text x="147" y="287.6">26<tspan x="166" dy="-8" font-size="8">°</tspan><tspan x="176" dy="8">N</tspan></text>
<text x="147" y="301.3">24<tspan x="166" dy="-8" font-size="8">°</tspan><tspan x="176" dy="8">N</tspan></text>
<text x="147" y="314.3">22<tspan x="166" dy="-8" font-size="8">°</tspan><tspan x="176" dy="8">N</tspan></text>
</g>
</g>
</svg>
</body></html>
